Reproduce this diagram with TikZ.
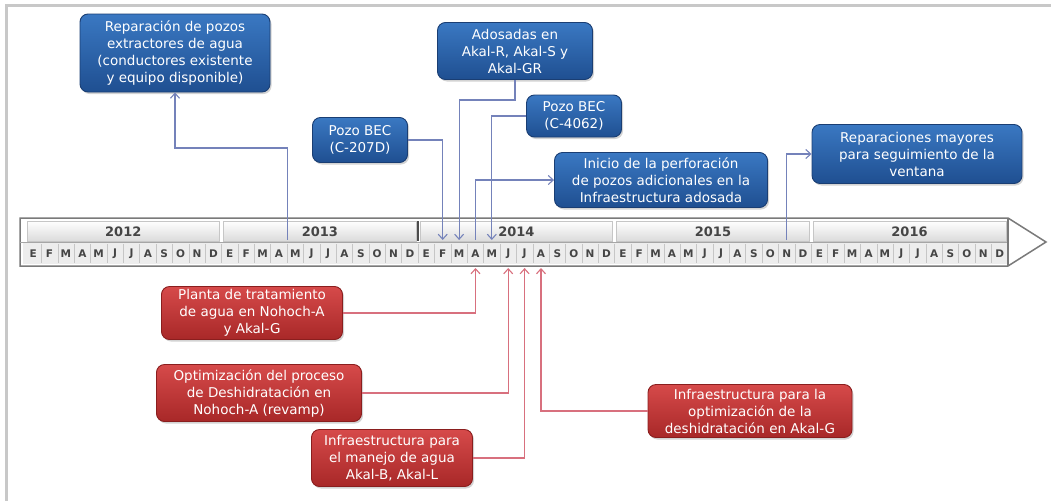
\documentclass[tikz,border=0pt]{standalone}
\usepackage{fontspec}
\setmainfont{DejaVu Sans}
\usetikzlibrary{arrows.meta,shadows}
\definecolor{btop}{HTML}{3A78C2}
\definecolor{bbot}{HTML}{1F4F91}
\definecolor{bdraw}{HTML}{1A3E73}
\definecolor{rtop}{HTML}{D64A4A}
\definecolor{rbot}{HTML}{A82828}
\definecolor{rdraw}{HTML}{8A1E1E}
\definecolor{bline}{HTML}{7482BA}
\definecolor{rline}{HTML}{D8707E}
\definecolor{framegray}{HTML}{C8C8C8}
\definecolor{bardraw}{HTML}{7A7A7A}
\definecolor{lettergray}{HTML}{454545}
\begin{document}
\begin{tikzpicture}[x=1pt,y=-1pt,
  box/.style={rounded corners=8pt, line width=0.9pt, text=white, align=center,
    font=\fontsize{13.5}{17}\selectfont, inner sep=0pt,
    drop shadow={opacity=0.35,shadow xshift=1.5pt,shadow yshift=-2pt}},
  bluebox/.style={box, draw=bdraw, top color=btop, bottom color=bbot},
  redbox/.style={box, draw=rdraw, top color=rtop, bottom color=rbot},
  bconn/.style={draw=bline, line width=1.1pt, -{Straight Barb[length=5pt,width=9pt]}},
  rconn/.style={draw=rline, line width=1.1pt, -{Straight Barb[length=5pt,width=9pt]}},
  monthlbl/.style={font=\bfseries\fontsize{10.5}{11}\selectfont, text=lettergray, inner sep=0pt},
  yearlbl/.style={font=\bfseries\fontsize{13}{14}\selectfont, text=lettergray, inner sep=0pt},
]
\useasboundingbox (0,0) rectangle (1051,501);
% frame
\draw[framegray, line width=3pt] (1051,5.5) -- (6,5.5) -- (6,501);
% timeline bar
\draw[draw=bardraw, line width=1.5pt, fill=white] (20,218) -- (1008,218) -- (1046,242) -- (1008,266) -- (20,266) -- cycle;
\foreach \yi in {0,...,4} {
  \pgfmathsetmacro{\xa}{25+\yi*196.56}
  \pgfmathsetmacro{\xb}{25+(\yi+1)*196.56}
  \shade[top color=white, bottom color=gray!28] (\xa+2,221) rectangle (\xb-2,241);
  \draw[gray!45, line width=0.5pt] (\xa+2,221) rectangle (\xb-2,241);
}
\fill[gray!14] (23,243) rectangle (1008,264);
\draw[gray!70, line width=0.8pt] (20,242) -- (1008,242);
\draw[bardraw, line width=1.2pt] (1008,218) -- (1008,266);
\draw[gray!60!black, line width=1.5pt] (418.1,221) -- (418.1,241);
\foreach \i in {1,...,59} {
  \draw[gray!45, line width=0.5pt] ({25+\i*16.38},244) -- ({25+\i*16.38},263);
}
\foreach \yr [count=\yi from 0] in {2012,2013,2014,2015,2016} {
  \node[yearlbl] (y\yr) at ({25+(\yi+0.5)*196.56},232) {\yr};
  \foreach \m [count=\mi from 0] in {E,F,M,A,M,J,J,A,S,O,N,D} {
    \node[monthlbl] (m\yr-\mi) at ({25+(\yi*12+\mi+0.5)*16.38},254) {\m};
  }
}
% timeline anchor points
\coordinate (t13) at (287.1,240);
\coordinate (tfe) at (442.7,240);
\coordinate (tmr) at (459.1,240);
\coordinate (tap) at (475.5,240);
\coordinate (tmy) at (491.8,240);
\coordinate (tno) at (786.7,240);
\coordinate (bap) at (475.5,268);
\coordinate (bjn) at (508.2,268);
\coordinate (bjl) at (524.6,268);
\coordinate (bag) at (541.0,268);
% blue boxes
\node[bluebox, minimum width=190pt, minimum height=78pt] (rep) at (175,53)
  {Reparación de pozos\\extractores de agua\\(conductores existente\\y equipo disponible)};
\node[bluebox, minimum width=95pt, minimum height=45pt] (bec1) at (360,140)
  {Pozo BEC\\(C-207D)};
\node[bluebox, minimum width=155pt, minimum height=57pt] (ados) at (515,51)
  {Adosadas en\\Akal-R, Akal-S y\\Akal-GR};
\node[bluebox, minimum width=95pt, minimum height=42pt] (bec2) at (574,116)
  {Pozo BEC\\(C-4062)};
\node[bluebox, minimum width=213pt, minimum height=55pt] (ini) at (661,180)
  {Inicio de la perforación\\de pozos adicionales en la\\Infraestructura adosada};
\node[bluebox, minimum width=210pt, minimum height=59pt] (may) at (917,154)
  {Reparaciones mayores\\para seguimiento de la\\ventana};
% red boxes
\node[redbox, minimum width=181pt, minimum height=53pt] (pla) at (252,313)
  {Planta de tratamiento\\de agua en Nohoch-A\\y Akal-G};
\node[redbox, minimum width=205pt, minimum height=57pt] (opt) at (259,393)
  {Optimización del proceso\\de Deshidratación en\\Nohoch-A (revamp)};
\node[redbox, minimum width=161pt, minimum height=57pt] (man) at (392,458)
  {Infraestructura para\\el manejo de agua\\Akal-B, Akal-L};
\node[redbox, minimum width=204pt, minimum height=53pt] (infg) at (750,411)
  {Infraestructura para la\\optimización de la\\deshidratación en Akal-G};
% blue connectors
\draw[bconn] (t13) -- ++(0,-92) -| (rep.south);
\draw[bconn] (bec1.east) -| (tfe);
\draw[bconn] (ados.south) -- ++(0,20) -| (tmr);
\draw[bconn] (bec2.west) -| (tmy);
\draw[bconn] (tap) |- (ini.west);
\draw[bconn] (tno) |- (may.west);
% red connectors
\draw[rconn] (pla.east) -| (bap);
\draw[rconn] (opt.east) -| (bjn);
\draw[rconn] (man.east) -| (bjl);
\draw[rconn] (infg.west) -| (bag);
\end{tikzpicture}
\end{document}
